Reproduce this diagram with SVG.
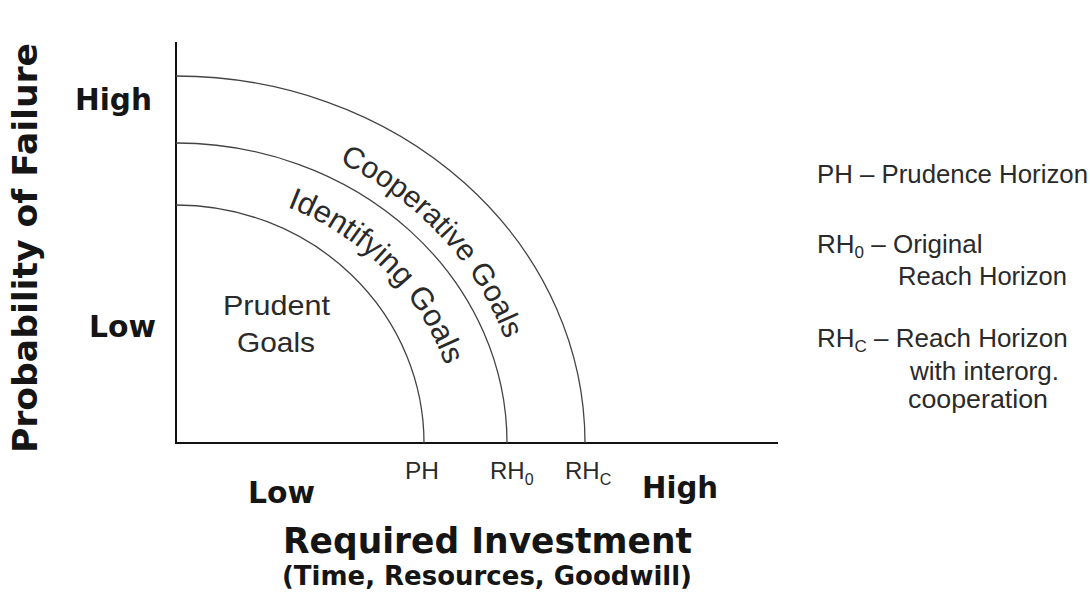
<svg xmlns="http://www.w3.org/2000/svg" width="1090" height="593" viewBox="0 0 1090 593">
<style>
.ax{stroke:#111;stroke-width:2;fill:none}
.arc{stroke:#444;stroke-width:1.3;fill:none}
.bold{font-family:"DejaVu Sans",sans-serif;font-weight:bold;fill:#151515}
.reg{font-family:"Liberation Sans",Arial,sans-serif;fill:#2a2a2a}
</style>
<defs>
<path id="pCoop" d="M 339.3 162.2 A 348 318 0 0 1 524 443"/>
<path id="pIdent" d="M 287 207 A 283 259 0 0 1 459 443"/>
</defs>
<rect width="1090" height="593" fill="#fff"/>
<g id="axes">
<path class="ax" d="M 176 42 L 176 443 L 778 443"/>
</g>
<g id="connectors">
<path id="arcPH" class="arc" d="M 176 205 A 248 238 0 0 1 424 443"/>
<path id="arcRH0" class="arc" d="M 176 143 A 331 300 0 0 1 507 443"/>
<path id="arcRHC" class="arc" d="M 176 76 A 409 367 0 0 1 585 443"/>
</g>
<g id="yaxis-labels">
<text class="bold" transform="translate(37,453) rotate(-90)" font-size="33" textLength="410" lengthAdjust="spacingAndGlyphs">Probability of Failure</text>
<text class="bold" x="75" y="110" font-size="30" textLength="77" lengthAdjust="spacingAndGlyphs">High</text>
<text class="bold" x="89" y="337" font-size="30" textLength="67" lengthAdjust="spacingAndGlyphs">Low</text>
</g>
<g id="xaxis-labels">
<text class="bold" x="248" y="503" font-size="30" textLength="67" lengthAdjust="spacingAndGlyphs">Low</text>
<text class="bold" x="642" y="498" font-size="30" textLength="76" lengthAdjust="spacingAndGlyphs">High</text>
<text class="bold" x="283" y="553" font-size="35" textLength="409" lengthAdjust="spacingAndGlyphs">Required Investment</text>
<text class="bold" x="282" y="585" font-size="26" textLength="410" lengthAdjust="spacingAndGlyphs">(Time, Resources, Goodwill)</text>
<text class="reg" x="405" y="479" font-size="24" textLength="34" lengthAdjust="spacingAndGlyphs">PH</text>
<text class="reg" x="490" y="479" font-size="24">RH<tspan font-size="16" dy="6">0</tspan></text>
<text class="reg" x="565" y="479" font-size="24">RH<tspan font-size="16" dy="6">C</tspan></text>
</g>
<g id="prudent">
<text class="reg" x="223" y="315" font-size="28" textLength="107" lengthAdjust="spacingAndGlyphs">Prudent</text>
<text class="reg" x="237" y="352" font-size="28" textLength="78" lengthAdjust="spacingAndGlyphs">Goals</text>
</g>
<g id="identifying">
<text class="reg" font-size="31"><textPath href="#pIdent">Identifying Goals</textPath></text>
</g>
<g id="cooperative">
<text class="reg" font-size="30"><textPath href="#pCoop">Cooperative Goals</textPath></text>
</g>
<g id="legend">
<text class="reg" x="817" y="183" font-size="26" textLength="271" lengthAdjust="spacingAndGlyphs">PH – Prudence Horizon</text>
<text class="reg" x="817" y="253" font-size="26">RH<tspan font-size="17" dy="5">0</tspan><tspan dy="-5"> – Original</tspan></text>
<text class="reg" x="898" y="285" font-size="26" textLength="169" lengthAdjust="spacingAndGlyphs">Reach Horizon</text>
<text class="reg" x="817" y="347" font-size="26">RH<tspan font-size="17" dy="5">C</tspan><tspan dy="-5"> – Reach Horizon</tspan></text>
<text class="reg" x="910" y="380" font-size="26" textLength="149" lengthAdjust="spacingAndGlyphs">with interorg.</text>
<text class="reg" x="908" y="408" font-size="26" textLength="140" lengthAdjust="spacingAndGlyphs">cooperation</text>
</g>
</svg>
